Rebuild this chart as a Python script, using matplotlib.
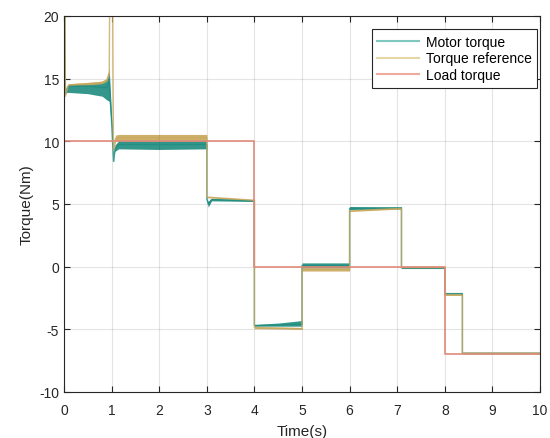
import matplotlib
matplotlib.use("Agg")
import matplotlib.pyplot as plt
from matplotlib.lines import Line2D

plt.rcParams['font.family'] = ['Liberation Sans', 'DejaVu Sans']
plt.rcParams['font.size'] = 10
plt.rcParams['axes.unicode_minus'] = False

# motor torque: centre line and noise envelope
motor_t = [0, 0, 0.01, 0.03, 0.06, 0.1, 0.5, 0.8, 0.9, 0.95, 1.0, 1.04, 1.07, 1.15, 2.0, 3.0,
           3.0, 3.03, 3.1, 4.0, 4.0, 4.05, 4.5, 5.0, 5.0, 6.0, 6.0, 7.09, 7.09, 8.0, 8.0, 8.37, 8.37, 10.0]
motor = [0, 0, 20.5, 13.8, 14.2, 14.4, 14.4, 14.3, 14.3, 14.8, 11.5, 8.4, 9.4, 9.75, 9.75, 9.75,
         5.4, 5.0, 5.35, 5.25, -4.7, -4.7, -4.65, -4.6, 0.1, 0.1, 4.65, 4.7, -0.1, -0.1, -2.15, -2.15, -6.9, -6.9]
motor_lo = [0, 0, 20.5, 13.8, 13.9, 13.9, 13.8, 13.6, 13.3, 13.2, 11.0, 8.3, 9.2, 9.4, 9.35, 9.4,
            5.3, 4.75, 5.25, 5.2, -4.75, -4.75, -4.75, -4.75, -0.1, -0.1, 4.55, 4.6, -0.15, -0.15, -2.2, -2.2, -6.95, -6.95]
motor_hi = [0, 0, 20.5, 13.8, 14.4, 14.6, 14.6, 14.7, 15.0, 15.8, 12.0, 8.5, 9.7, 10.05, 10.05, 10.05,
            5.5, 5.2, 5.45, 5.3, -4.6, -4.6, -4.5, -4.3, 0.3, 0.3, 4.8, 4.75, -0.05, -0.05, -2.1, -2.1, -6.85, -6.85]

# torque reference: centre line and noise envelope
ref_t = [0, 0, 0.02, 0.03, 0.06, 0.1, 0.5, 0.8, 0.9, 0.95, 0.96, 1.02, 1.04, 1.08, 1.15, 3.0,
         3.0, 4.0, 4.0, 5.0, 5.0, 6.0, 6.0, 7.09, 7.09, 8.0, 8.0, 8.37, 8.37, 10.0]
ref = [0, 22, 22, 13.6, 14.2, 14.5, 14.6, 14.7, 14.9, 15.5, 22, 22, 9.3, 10.2, 10.3, 10.3,
       5.55, 5.3, -4.85, -4.95, -0.2, -0.2, 4.45, 4.65, -0.05, -0.05, -2.25, -2.25, -6.9, -6.9]
ref_lo = [0, 22, 22, 13.6, 14.1, 14.45, 14.5, 14.6, 14.8, 15.3, 22, 22, 9.2, 10.0, 10.05, 10.05,
          5.5, 5.25, -4.95, -5.0, -0.35, -0.35, 4.4, 4.6, -0.1, -0.1, -2.3, -2.3, -6.95, -6.95]
ref_hi = [0, 22, 22, 13.6, 14.3, 14.6, 14.7, 14.8, 15.0, 15.7, 22, 22, 9.4, 10.5, 10.55, 10.55,
          5.6, 5.35, -4.8, -4.85, -0.1, -0.1, 4.5, 4.7, 0.0, 0.0, -2.2, -2.2, -6.85, -6.85]

# load torque steps
load_t = [0, 4, 4, 8, 8, 10]
load = [10, 10, 0, 0, -7, -7]

c_motor = '#1f8c80'
c_ref = '#c9a85c'
c_load = '#e08a78'

fig = plt.figure(figsize=(5.5, 4.39), dpi=100)
ax = fig.add_axes([0.1164, 0.1048, 0.8654, 0.8565])

ax.fill_between(motor_t, motor_lo, motor_hi, color=c_motor, lw=0, alpha=0.9)
ax.plot(motor_t, motor, color=c_motor, lw=1.0, alpha=0.8)
ax.fill_between(ref_t, ref_lo, ref_hi, color=c_ref, lw=0, alpha=0.9)
ax.plot(ref_t, ref, color=c_ref, lw=1.0, alpha=0.8)
ax.plot(load_t, load, color=c_load, lw=1.2)

ax.set_xlim(0, 10)
ax.set_ylim(-10, 20)
ax.set_xticks(range(0, 11))
ax.set_yticks(range(-10, 21, 5))
ax.grid(True, color='#262626', alpha=0.12, lw=0.8)
ax.tick_params(direction='in', top=True, right=True, length=4, colors='#262626', labelsize=10)
ax.tick_params(axis='x', pad=8)
for s in ax.spines.values():
    s.set_color('#262626')
    s.set_linewidth(0.8)

ax.set_xlabel('Time(s)', fontsize=11, color='#262626', labelpad=5)
ax.set_ylabel('Torque(Nm)', fontsize=11, color='#262626', labelpad=4)

handles = [Line2D([], [], color='#7fc8be', lw=1.5),
           Line2D([], [], color='#e6d6a6', lw=1.5),
           Line2D([], [], color='#eeaa9a', lw=1.5)]
leg = ax.legend(handles, ['Motor torque', 'Torque reference', 'Load torque'],
                loc='upper right', bbox_to_anchor=(0.994, 0.965), borderaxespad=0,
                handlelength=3.0, fancybox=False, edgecolor='#262626', framealpha=1,
                borderpad=0.4, labelspacing=0.2, handletextpad=0.5)
leg.get_frame().set_linewidth(0.8)

fig.savefig('out.png', dpi=100)
